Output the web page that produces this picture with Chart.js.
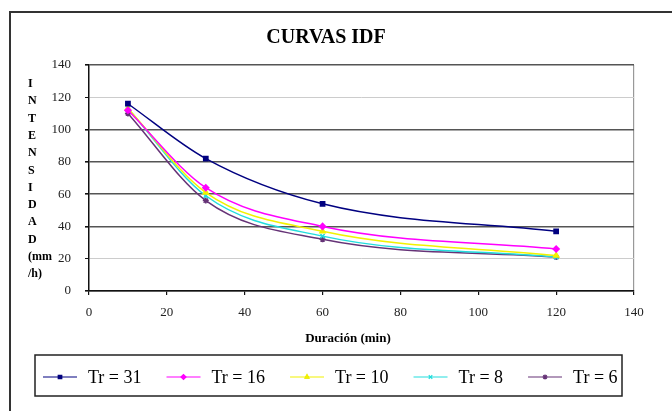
<!DOCTYPE html>
<html>
<head>
<meta charset="utf-8">
<title>Curvas IDF</title>
<script src="https://cdn.jsdelivr.net/npm/chart.js@4.4.1/dist/chart.umd.min.js"></script>
<style>
  html, body { margin: 0; padding: 0; background: #fff; }
  #wrap { width: 672px; height: 411px; position: relative; }
</style>
</head>
<body>
<div id="wrap"><canvas id="idf-chart"></canvas></div>
<script>
// Duration (min) and intensity (mm/h) for each return period
const duraciones = [10, 30, 60, 120];
const tr31 = [116, 82, 54, 37];
const tr16 = [112, 64, 40, 26];
const tr10 = [113, 61, 37, 22];
const tr8 = [113, 59, 34, 21];
const tr6 = [110, 56, 32, 21];

const seriesLabels = ['Tr = 31', 'Tr = 16', 'Tr = 10', 'Tr = 8', 'Tr = 6'];
const seriesColors = ['#000080', '#ff00ff', '#f2f200', '#22dddd', '#663377'];
const seriesMarkers = ['rect', 'rectRot', 'triangle', 'crossRot', 'star'];
const yTitleLines = ['I', 'N', 'T', 'E', 'N', 'S', 'I', 'D', 'A', 'D', '(mm', '/h)'];

const SERIF = '"Liberation Serif", "Times New Roman", serif';

const allSeries = [tr31, tr16, tr10, tr8, tr6];
const datasets = allSeries.map((vals, i) => ({
  label: seriesLabels[i],
  data: duraciones.map((d, j) => ({ x: d, y: vals[j] })),
  borderColor: seriesColors[i],
  backgroundColor: seriesColors[i],
  borderWidth: 1.5,
  pointStyle: seriesMarkers[i],
  pointRadius: 3,
  pointBorderWidth: 1.5,
  cubicInterpolationMode: 'monotone',
  fill: false
}));

// Draws the frame, the titles and the boxed legend
const decorPlugin = {
  id: 'decor',
  afterDraw(chart) {
    const c = chart.ctx;
    c.save();

    // outer frame (left + top)
    c.strokeStyle = '#333';
    c.lineWidth = 2;
    c.beginPath();
    c.moveTo(10, 411);
    c.lineTo(10, 12);
    c.lineTo(672, 12);
    c.stroke();

    // chart title
    c.fillStyle = '#000';
    c.font = 'bold 20px ' + SERIF;
    c.textAlign = 'center';
    c.textBaseline = 'middle';
    c.fillText('CURVAS IDF', 326, 38);

    // x axis title
    c.font = 'bold 13px ' + SERIF;
    c.fillText('Duración (min)', 348, 339);

    // y axis title, stacked letters
    c.textAlign = 'left';
    c.font = 'bold 12px ' + SERIF;
    yTitleLines.forEach((t, i) => {
      c.fillText(t, 28, 84 + i * 17.3);
    });

    // legend box
    c.strokeStyle = '#222';
    c.lineWidth = 1.5;
    c.strokeRect(35, 355, 587, 41);

    let x = 43;
    const y = 377;
    c.font = '18px ' + SERIF;
    chart.data.datasets.forEach(ds => {
      c.strokeStyle = ds.borderColor;
      c.lineWidth = 1.2;
      c.beginPath();
      c.moveTo(x, y);
      c.lineTo(x + 34, y);
      c.stroke();
      Chart.helpers.drawPoint(c, {
        pointStyle: ds.pointStyle, radius: 2.5, rotation: 0, borderWidth: 1.5
      }, x + 17, y);
      c.fillStyle = ds.borderColor;
      c.fill();
      c.fillStyle = '#000';
      c.fillText(ds.label, x + 45, y + 1);
      x += 45 + c.measureText(ds.label).width + 25;
    });

    c.restore();
  }
};

const ctx = document.getElementById('idf-chart').getContext('2d');

const chart = new Chart(ctx, {
  type: 'line',
  data: { datasets: datasets },
  options: {
    responsive: true,
    maintainAspectRatio: false,
    animation: false,
    layout: { padding: { top: 65, right: 38, left: 0, bottom: 0 } },
    plugins: {
      legend: { display: false },
      title: { display: false },
      tooltip: { enabled: false }
    },
    scales: {
      x: {
        type: 'linear',
        min: 0,
        max: 140,
        ticks: {
          stepSize: 20,
          color: '#222',
          padding: 10,
          font: { family: SERIF, size: 13 }
        },
        grid: {
          color: c => (c.tick && c.tick.value === 140 ? '#999' : 'rgba(0,0,0,0)'),
          tickColor: '#111',
          tickLength: 4,
          lineWidth: 1.2
        },
        border: { color: '#111', width: 1.5 },
        afterFit: scale => { scale.height = 120; }
      },
      y: {
        min: 0,
        max: 140,
        ticks: {
          stepSize: 20,
          color: '#222',
          padding: 14,
          font: { family: SERIF, size: 13 }
        },
        grid: {
          color: c => {
            const v = c.tick ? c.tick.value : 0;
            if (v === 20 || v === 120) return '#cccccc';
            return '#555';
          },
          lineWidth: c => {
            const v = c.tick ? c.tick.value : 0;
            return (v === 20 || v === 120) ? 1 : 1.6;
          },
          tickColor: '#111',
          tickLength: 4
        },
        border: { color: '#111', width: 1.5 },
        afterFit: scale => { scale.width = 89; }
      }
    }
  },
  plugins: [decorPlugin]
});
</script>
</body>
</html>
